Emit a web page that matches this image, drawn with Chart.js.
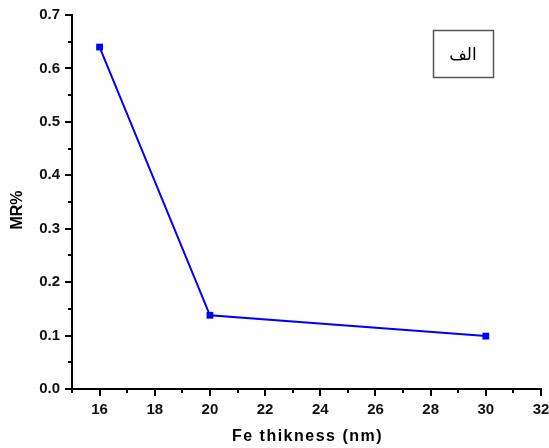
<!DOCTYPE html>
<html><head><meta charset="utf-8">
<script src="https://cdn.jsdelivr.net/npm/chart.js@4/dist/chart.umd.min.js"></script>
<style>html,body{margin:0;padding:0;background:#fff;}#wrap{width:549px;height:448px;}</style>
</head><body><div id="wrap"><canvas id="c" width="549" height="448"></canvas></div>
<script>
const thickness = [16, 20, 30];
const mrPercent = [0.64, 0.138, 0.099];
const xTickValues = [16, 18, 20, 22, 24, 26, 28, 30, 32];
const xMinorValues = [15, 17, 19, 21, 23, 25, 27, 29, 31];
const yTickValues = [0.0, 0.1, 0.2, 0.3, 0.4, 0.5, 0.6, 0.7];
const yMinorValues = [0.05, 0.15, 0.25, 0.35, 0.45, 0.55, 0.65];
const xTitle = 'Fe thikness (nm)';
const yTitle = 'MR%';
const panelLabel = 'الف';

const tickFont = {family: "'Liberation Sans', Arial, sans-serif", size: 15, weight: 'bold'};

const decor = {
  id: 'decor',
  afterDraw(chart) {
    const ctx = chart.ctx;
    const xs = chart.scales.x, ys = chart.scales.y;
    const ca = chart.chartArea;
    ctx.save();
    ctx.strokeStyle = '#000';
    ctx.lineWidth = 2;
    ctx.beginPath();
    const axY = ca.bottom, axX = ca.left;
    xTickValues.forEach(v => { const p = Math.round(xs.getPixelForValue(v)); ctx.moveTo(p, axY); ctx.lineTo(p, axY + 7); });
    xMinorValues.forEach(v => { const p = Math.round(xs.getPixelForValue(v)); ctx.moveTo(p, axY); ctx.lineTo(p, axY + 4); });
    yTickValues.forEach(v => { const p = Math.round(ys.getPixelForValue(v)); ctx.moveTo(axX, p); ctx.lineTo(axX - 7, p); });
    yMinorValues.forEach(v => { const p = Math.round(ys.getPixelForValue(v)); ctx.moveTo(axX, p); ctx.lineTo(axX - 4, p); });
    ctx.stroke();

    // axis titles
    ctx.fillStyle = '#000';
    ctx.font = "bold 16px 'Liberation Sans', Arial, sans-serif";
    ctx.textAlign = 'center';
    ctx.textBaseline = 'middle';
    try { ctx.letterSpacing = '1.5px'; } catch (e) {}
    ctx.fillText(xTitle, (ca.left + ca.right) / 2 + 1, 437);
    try { ctx.letterSpacing = '0px'; } catch (e) {}
    ctx.save();
    ctx.translate(18, 210);
    ctx.rotate(-Math.PI / 2);
    ctx.font = "bold 16px 'Liberation Sans', Arial, sans-serif";
    ctx.fillText(yTitle, 0, 0);
    ctx.restore();

    // panel label box
    ctx.strokeStyle = '#555';
    ctx.lineWidth = 1.5;
    ctx.strokeRect(433.5, 30.5, 60, 47);
    ctx.font = "17px 'DejaVu Sans', sans-serif";
    ctx.fillStyle = '#000';
    ctx.fillText(panelLabel, 463, 56);
    ctx.restore();
  }
};

new Chart(document.getElementById('c'), {
  type: 'line',
  data: {
    datasets: [{
      data: thickness.map((x, i) => ({x: x, y: mrPercent[i]})),
      borderColor: '#0000ff',
      backgroundColor: '#0000ff',
      borderWidth: 2,
      pointStyle: 'rect',
      pointRadius: 4.8,
      pointBorderWidth: 0,
      tension: 0,
      fill: false
    }]
  },
  options: {
    responsive: false,
    devicePixelRatio: 1,
    animation: false,
    layout: {padding: {top: 15, right: 8, left: 0, bottom: 0}},
    plugins: {legend: {display: false}, tooltip: {enabled: false}},
    scales: {
      x: {
        type: 'linear', min: 15, max: 32,
        afterBuildTicks: s => { s.ticks = xTickValues.map(v => ({value: v})); },
        afterFit: s => { s.height = 59; s.paddingLeft = 0; s.paddingRight = 0; },
        ticks: {font: tickFont, color: '#111', padding: 12, maxRotation: 0, autoSkip: false, callback: v => String(v)},
        grid: {display: false, drawTicks: false},
        border: {display: true, color: '#000', width: 2}
      },
      y: {
        type: 'linear', min: 0, max: 0.7,
        afterBuildTicks: s => { s.ticks = yTickValues.map(v => ({value: v})); },
        afterFit: s => { s.width = 72; s.paddingTop = 0; s.paddingBottom = 0; },
        ticks: {font: tickFont, color: '#111', padding: 12, autoSkip: false, callback: v => Number(v).toFixed(1)},
        grid: {display: false, drawTicks: false},
        border: {display: true, color: '#000', width: 2}
      }
    }
  },
  plugins: [decor]
});
</script>
</body></html>
